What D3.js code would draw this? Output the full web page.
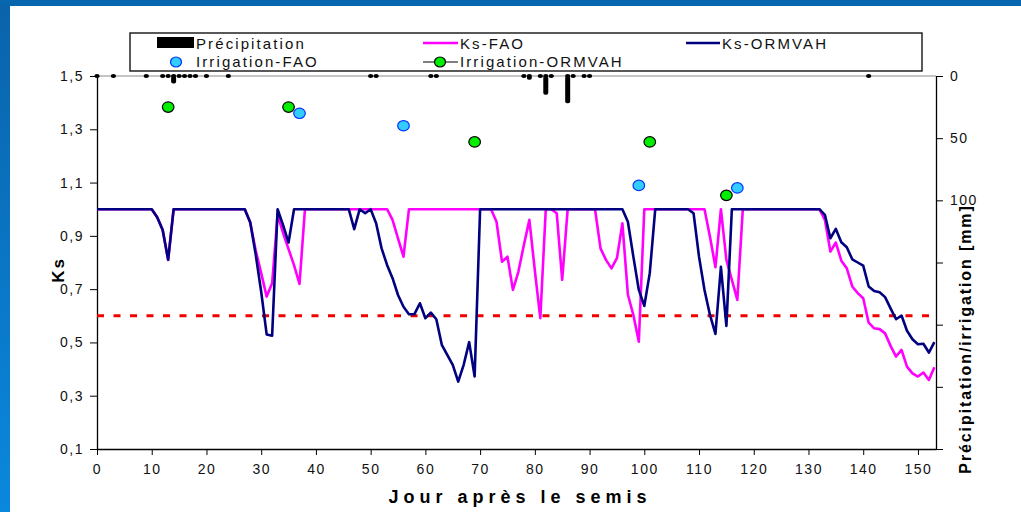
<!DOCTYPE html>
<html>
<head>
<meta charset="utf-8">
<script src="https://cdn.jsdelivr.net/npm/d3@7"></script>
<style>
  body { margin: 0; background: #fff; }
  svg { display: block; font-family: "Liberation Sans", Arial, sans-serif; }
</style>
</head>
<body>
<svg id="chart" width="1021" height="512"></svg>
<script>
// Ks per day, from day 0 to day 153
const ksFAO = [
  1, 1, 1, 1, 1, 1, 1, 1, 1, 1,
  1, 0.97, 0.922, 0.81, 1, 1, 1, 1, 1, 1,
  1, 1, 1, 1, 1, 1, 1, 1, 0.95, 0.845,
  0.76, 0.672, 0.722, 0.98, 0.91, 0.85, 0.79, 0.72, 1, 1,
  1, 1, 1, 1, 1, 1, 1, 1, 1, 1,
  1, 1, 1, 1, 0.96, 0.891, 0.822, 1, 1, 1,
  1, 1, 1, 1, 1, 1, 1, 1, 1, 1,
  1, 1, 1, 0.953, 0.803, 0.822, 0.697, 0.766, 0.866, 0.96,
  0.77, 0.591, 1, 1, 0.985, 0.735, 1, 1, 1, 1,
  1, 1, 0.853, 0.81, 0.778, 0.816, 0.947, 0.68, 0.603, 0.503,
  1, 1, 1, 1, 1, 1, 1, 1, 1, 1,
  1, 1, 0.897, 0.782, 1, 0.81, 0.735, 0.66, 1, 1,
  1, 1, 1, 1, 1, 1, 1, 1, 1, 1,
  1, 1, 1, 0.96, 0.841, 0.875, 0.807, 0.778, 0.71, 0.685,
  0.666, 0.574, 0.553, 0.55, 0.534, 0.487, 0.447, 0.472, 0.409, 0.384,
  0.372, 0.387, 0.359, 0.407
];
const ksORMVAH = [
  1, 1, 1, 1, 1, 1, 1, 1, 1, 1,
  1, 0.97, 0.922, 0.81, 1, 1, 1, 1, 1, 1,
  1, 1, 1, 1, 1, 1, 1, 1, 0.95, 0.83,
  0.69, 0.53, 0.525, 1, 0.94, 0.875, 1, 1, 1, 1,
  1, 1, 1, 1, 1, 1, 1, 0.925, 1, 0.985,
  1, 0.947, 0.853, 0.791, 0.741, 0.678, 0.634, 0.606, 0.606, 0.647,
  0.591, 0.612, 0.587, 0.491, 0.453, 0.416, 0.353, 0.416, 0.501, 0.372,
  1, 1, 1, 1, 1, 1, 1, 1, 1, 1,
  1, 1, 1, 1, 1, 1, 1, 1, 1, 1,
  1, 1, 1, 1, 1, 1, 1, 0.953, 0.822, 0.697,
  0.637, 0.76, 1, 1, 1, 1, 1, 1, 1, 0.985,
  0.822, 0.697, 0.603, 0.532, 0.784, 0.562, 1, 1, 1, 1,
  1, 1, 1, 1, 1, 1, 1, 1, 1, 1,
  1, 1, 1, 0.979, 0.891, 0.926, 0.876, 0.857, 0.812, 0.8,
  0.788, 0.71, 0.693, 0.688, 0.67, 0.628, 0.587, 0.601, 0.544, 0.512,
  0.493, 0.495, 0.462, 0.501
];

// precipitation (mm), right axis
const precDays = [0, 3, 9, 12, 13, 14, 15, 16, 17, 18, 20, 24, 50, 51, 61, 62, 78, 79, 81, 82, 83, 86, 87, 89, 90, 141];
const precMm   = [1, 1, 1, 1, 1, 6, 1, 1, 1, 1, 1, 1, 1, 1, 1, 1, 1, 3, 1, 15, 1, 22, 1, 1, 1, 1];

// irrigation (mm)
const irrFaoDays = [37, 56, 99, 117];
const irrFaoMm   = [30, 40, 88, 90];
const irrOrmDays = [13, 35, 69, 101, 115];
const irrOrmMm   = [25, 25, 53, 53, 96];

const ksSeuil = 0.6;

const ksTicks = [0.1, 0.3, 0.5, 0.7, 0.9, 1.1, 1.3, 1.5];
const mmTicks = [0, 50, 100, 150, 200, 250, 300];
const mmLabels = [0, 50, 100];
const dayTicks = [0, 10, 20, 30, 40, 50, 60, 70, 80, 90, 100, 110, 120, 130, 140, 150];

const svg = d3.select('#chart');
const W = +svg.attr('width');
const H = +svg.attr('height');

// blue frame of the slide
const defs = svg.append('defs');
const grad = defs.append('linearGradient').attr('id', 'bleu').attr('x1', 0).attr('y1', 0).attr('x2', 0).attr('y2', 1);
grad.append('stop').attr('offset', '0%').attr('stop-color', '#0a63aa');
grad.append('stop').attr('offset', '100%').attr('stop-color', '#0a88de');
svg.append('rect').attr('x', 0).attr('y', 0).attr('width', 10).attr('height', H).attr('fill', 'url(#bleu)');
svg.append('rect').attr('x', 0).attr('y', 0).attr('width', W).attr('height', 6).attr('fill', '#0866ae');

const x = d3.scaleLinear().domain([0, 153.3]).range([97, 936]);
const y = d3.scaleLinear().domain([0.1, 1.5]).range([449, 76]);
const y2 = d3.scaleLinear().domain([0, 300]).range([76, 449]);

const virgule = d => d3.format('.1f')(d).replace('.', ',');

// top border
svg.append('line')
    .attr('x1', x(0)).attr('x2', 936)
    .attr('y1', 76).attr('y2', 76)
    .attr('stroke', '#8c8c8c').attr('stroke-width', 1.2);

// axes
const axL = svg.append('g').attr('transform', `translate(${x(0)},0)`)
    .call(d3.axisLeft(y).tickValues(ksTicks).tickFormat(virgule).tickSize(7).tickSizeOuter(0));
const axR = svg.append('g').attr('transform', 'translate(936,0)')
    .call(d3.axisRight(y2).tickValues(mmTicks).tickFormat(d => mmLabels.includes(d) ? d : '').tickSize(7).tickSizeOuter(0));
const axB = svg.append('g').attr('transform', 'translate(0,449)')
    .call(d3.axisBottom(x).tickValues(dayTicks).tickSize(6).tickSizeOuter(0));

[axL, axR, axB].forEach(a => {
    a.select('.domain').attr('stroke', '#000').attr('stroke-width', 1.3);
    a.selectAll('.tick line').attr('stroke', '#000').attr('stroke-width', 1);
    a.selectAll('.tick text')
        .attr('fill', '#111')
        .style('font-size', '14px')
        .style('letter-spacing', '1.5px')
        .style('font-family', '"Liberation Sans", Arial, sans-serif');
});
axL.selectAll('.tick text').attr('x', -13);
axR.selectAll('.tick text').attr('x', 14);
axB.selectAll('.tick text').attr('y', 15);

// threshold
svg.append('line')
    .attr('x1', x(0)).attr('x2', 936)
    .attr('y1', y(ksSeuil)).attr('y2', y(ksSeuil))
    .attr('stroke', '#f00000').attr('stroke-width', 3)
    .attr('stroke-dasharray', '7,9.5');

// precipitation bars from the top
const precip = svg.append('g');
precip.selectAll('rect').data(precDays).join('rect')
    .attr('x', d => x(d) - 2.5)
    .attr('y', y2(0))
    .attr('width', 5)
    .attr('height', (d, i) => y2(precMm[i]) - y2(0))
    .attr('rx', 2)
    .attr('fill', '#000');
precip.selectAll('ellipse').data(precDays).join('ellipse')
    .attr('cx', d => x(d))
    .attr('cy', y2(0))
    .attr('rx', 2.6).attr('ry', 2)
    .attr('fill', '#000');

// Ks lines
const line = d3.line().x((d, i) => x(i)).y(d => y(d));
svg.append('path').datum(ksFAO)
    .attr('d', line).attr('fill', 'none')
    .attr('stroke', '#ff00ff').attr('stroke-width', 2.6).attr('stroke-linejoin', 'round');
svg.append('path').datum(ksORMVAH)
    .attr('d', line).attr('fill', 'none')
    .attr('stroke', '#000080').attr('stroke-width', 2.6).attr('stroke-linejoin', 'round');

// irrigation points
svg.append('g').selectAll('ellipse').data(irrFaoDays).join('ellipse')
    .attr('cx', d => x(d))
    .attr('cy', (d, i) => y2(irrFaoMm[i]))
    .attr('rx', 5.8).attr('ry', 5.2)
    .attr('fill', '#33ccff').attr('stroke', '#0033ff').attr('stroke-width', 1.2);
svg.append('g').selectAll('ellipse').data(irrOrmDays).join('ellipse')
    .attr('cx', d => x(d))
    .attr('cy', (d, i) => y2(irrOrmMm[i]))
    .attr('rx', 5.8).attr('ry', 5.2)
    .attr('fill', '#00ee00').attr('stroke', '#000').attr('stroke-width', 1.2);

// axis titles
svg.append('text')
    .attr('transform', 'translate(64,270) rotate(-90)')
    .attr('text-anchor', 'middle')
    .style('font-size', '17px').style('font-weight', 'bold').style('letter-spacing', '2px')
    .text('Ks');
svg.append('text')
    .attr('x', 520).attr('y', 503)
    .attr('text-anchor', 'middle')
    .style('font-size', '18px').style('font-weight', 'bold').style('letter-spacing', '5px')
    .text('Jour après le semis');
svg.append('text')
    .attr('transform', 'translate(971,339) rotate(-90)')
    .attr('text-anchor', 'middle')
    .style('font-size', '16px').style('font-weight', 'bold').style('letter-spacing', '1.9px')
    .text('Précipitation/irrigation [mm]');

// legend
const leg = svg.append('g');
leg.append('rect')
    .attr('x', 130).attr('y', 33).attr('width', 792).attr('height', 38)
    .attr('fill', '#fff').attr('stroke', '#000').attr('stroke-width', 1.3);
const legText = (tx, ty, s) => leg.append('text')
    .attr('x', tx).attr('y', ty)
    .style('font-size', '15px').style('letter-spacing', '2.1px')
    .attr('fill', '#111')
    .text(s);
leg.append('rect').attr('x', 157).attr('y', 37).attr('width', 37).attr('height', 11).attr('fill', '#000');
legText(196, 49, 'Précipitation');
leg.append('line').attr('x1', 423).attr('x2', 458).attr('y1', 43).attr('y2', 43)
    .attr('stroke', '#ff00ff').attr('stroke-width', 2.6);
legText(460, 49, 'Ks-FAO');
leg.append('line').attr('x1', 686).attr('x2', 720).attr('y1', 43).attr('y2', 43)
    .attr('stroke', '#000080').attr('stroke-width', 2.6);
legText(722, 49, 'Ks-ORMVAH');
leg.append('ellipse').attr('cx', 176).attr('cy', 62).attr('rx', 5.5).attr('ry', 5)
    .attr('fill', '#33ccff').attr('stroke', '#0033ff').attr('stroke-width', 1.2);
legText(196, 67, 'Irrigation-FAO');
leg.append('line').attr('x1', 423).attr('x2', 458).attr('y1', 62).attr('y2', 62)
    .attr('stroke', '#000').attr('stroke-width', 1.2);
leg.append('ellipse').attr('cx', 440).attr('cy', 62).attr('rx', 5.5).attr('ry', 5)
    .attr('fill', '#00ee00').attr('stroke', '#000').attr('stroke-width', 1.2);
legText(460, 67, 'Irrigation-ORMVAH');
</script>
</body>
</html>
